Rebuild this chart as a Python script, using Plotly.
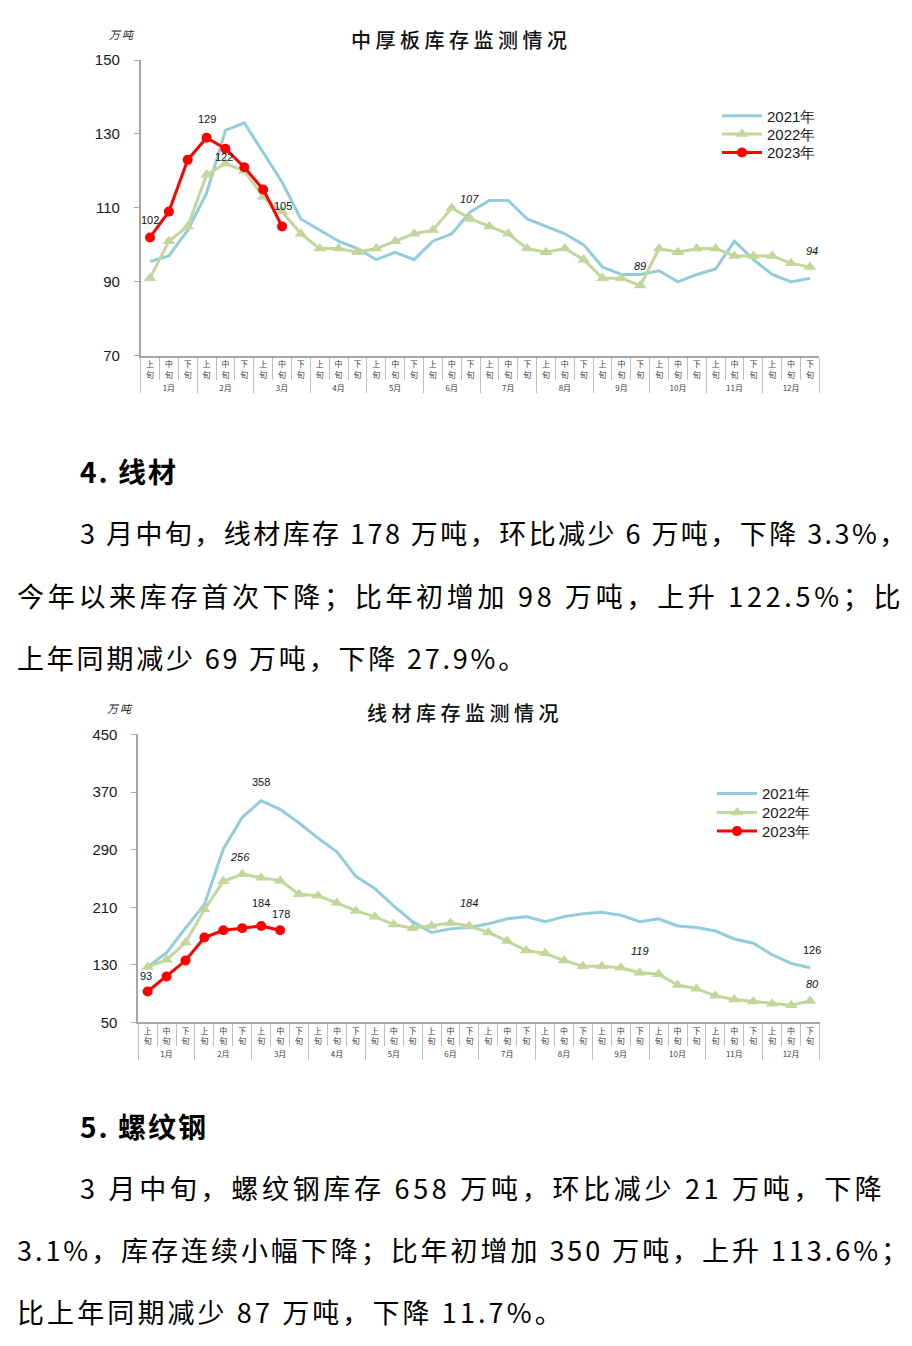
import plotly.graph_objects as go

# ---------------- data ----------------
months = ["1月", "2月", "3月", "4月", "5月", "6月", "7月", "8月", "9月", "10月", "11月", "12月"]
xun = ["上旬", "中旬", "下旬"]
series_names = ["2021年", "2022年", "2023年"]

plate_2021 = [95.5, 97, 104, 114, 131, 133, 125, 117, 107, 104, 101, 99, 96, 98, 96, 101, 103, 109,
              112, 112, 107, 105, 103, 100, 94, 92, 92, 93, 90, 92, 93.5, 101, 96, 92, 90, 91]
plate_2022 = [91, 101, 105, 119, 122, 120, 113, 109, 103, 99, 99, 98, 99, 101, 103, 104, 110, 107,
              105, 103, 99, 98, 99, 96, 91, 91, 89, 99, 98, 99, 99, 97, 97, 97, 95, 94]
plate_2023 = [102, 109, 123, 129, 126, 121, 115, 105]

wire_2021 = [127, 147, 181, 214, 291, 335, 358, 346, 327, 306, 287, 253, 236, 212, 190, 175, 180, 182,
             187, 194, 197, 190, 197, 201, 203, 199, 190, 194, 184, 182, 177, 166, 160, 144, 132, 126]
wire_2022 = [127, 137, 161, 207, 246, 256, 251, 247, 228, 226, 216, 205, 197, 186, 181, 184, 188, 184,
             175, 163, 150, 146, 136, 128, 128, 126, 119, 117, 102, 97, 87, 82, 79, 76, 74, 80]
wire_2023 = [93, 114, 136, 168, 178, 181, 184, 178]

plate_ticks = [70, 90, 110, 130, 150]
wire_ticks = [50, 130, 210, 290, 370, 450]

chart_titles = ["中厚板库存监测情况", "线材库存监测情况"]
unit_label = "万吨"

heading_4 = "4. 线材"
para_4 = ["3 月中旬，线材库存 178 万吨，环比减少 6 万吨，下降 3.3%，",
          "今年以来库存首次下降；比年初增加 98 万吨，上升 122.5%；比",
          "上年同期减少 69 万吨，下降 27.9%。"]
heading_5 = "5. 螺纹钢"
para_5 = ["3 月中旬，螺纹钢库存 658 万吨，环比减少 21 万吨，下降",
          "3.1%，库存连续小幅下降；比年初增加 350 万吨，上升 113.6%；",
          "比上年同期减少 87 万吨，下降 11.7%。"]

# ---------------- helpers ----------------
W, H = 912, 1346
# the page is photographed slightly squeezed vertically; map target pixels to paper fractions
SY = 1346 / 1362
OY = 8 * SY
def PX(p): return p / W
def PY(p): return 1 - ((p - OY) / SY) / H

x_outer = [m for m in months for _ in xun]
x_inner = [x[0] + "<br>" + x[1] for _ in months for x in xun]
XC = [x_outer, x_inner]

BLUE = "#92CDDC"
GREEN = "#C3D69B"
RED = "#FF0000"
CJK = "Noto Sans CJK SC"

fig = go.Figure()

def add_series(vals21, vals22, vals23, xa, ya, legends):
    n23 = len(vals23)
    fig.add_trace(go.Scatter(x=XC, y=vals21, name=series_names[0], mode="lines",
                             line=dict(color=BLUE, width=3), xaxis=xa, yaxis=ya, legend=legends[0]))
    fig.add_trace(go.Scatter(x=XC, y=vals22, name=series_names[1], mode="lines+markers",
                             line=dict(color=GREEN, width=3),
                             marker=dict(symbol="triangle-up", size=11, color=GREEN),
                             xaxis=xa, yaxis=ya, legend=legends[1]))
    fig.add_trace(go.Scatter(x=[x_outer[:n23], x_inner[:n23]], y=vals23, name=series_names[2],
                             mode="lines+markers", line=dict(color=RED, width=3),
                             marker=dict(symbol="circle", size=10, color=RED),
                             xaxis=xa, yaxis=ya, legend=legends[2]))

add_series(plate_2021, plate_2022, plate_2023, "x", "y", ["legend", "legend2", "legend3"])
add_series(wire_2021, wire_2022, wire_2023, "x2", "y2", ["legend4", "legend5", "legend6"])

xcommon = dict(type="multicategory", range=[-0.5, 35.5], showline=True, linecolor="#A6A6A6",
               linewidth=1.5, ticks="outside", tickson="boundaries", ticklen=22, tickcolor="#BFBFBF",
               tickwidth=1, tickfont=dict(size=8, color="#404040", family=CJK),
               showdividers=True, dividercolor="#BFBFBF", dividerwidth=1, showgrid=False,
               zeroline=False, fixedrange=True)
ycommon = dict(showline=True, linecolor="#A6A6A6", linewidth=1.5, ticks="outside", ticklen=5,
               tickcolor="#A6A6A6", tickfont=dict(size=15, color="#1a1a1a", family="Liberation Sans"),
               showgrid=False, zeroline=False, fixedrange=True, ticklabelstandoff=11)

def leg(xp, yp):
    return dict(x=PX(xp), y=PY(yp), xanchor="left", yanchor="middle", bgcolor="rgba(0,0,0,0)",
                borderwidth=0, font=dict(size=15, color="#1a1a1a", family="Liberation Sans"),
                itemwidth=40)

fig.update_layout(
    width=W, height=H, margin=dict(l=0, r=0, t=0, b=0),
    paper_bgcolor="white", plot_bgcolor="white",
    xaxis=dict(domain=[PX(140.6), PX(819.4)], anchor="y", **xcommon),
    yaxis=dict(domain=[PY(355), PY(59)], anchor="x", range=[70, 150], tickvals=plate_ticks, **ycommon),
    xaxis2=dict(domain=[PX(138.2), PX(819.5)], anchor="y2", **xcommon),
    yaxis2=dict(domain=[PY(1022.3), PY(734)], anchor="x2", range=[50, 450], tickvals=wire_ticks, **ycommon),
    legend=leg(717, 115), legend2=leg(717, 133.3), legend3=leg(717, 151.7),
    legend4=leg(712, 793.3), legend5=leg(712, 812.3), legend6=leg(712, 831),
    showlegend=True,
)

ann = []
# data labels: (xref, yref, index, value, text, italic, xshift, yshift)
labels = [
    ("x", "y", 0, plate_2023[0], "102", False, 0, 17),
    ("x", "y", 3, plate_2023[3], "129", False, 0, 19),
    ("x", "y", 4, plate_2022[4], "122", False, -1, 7),
    ("x", "y", 7, plate_2023[7], "105", False, 1, 20),
    ("x", "y", 17, plate_2022[17], "107", True, -1, 20),
    ("x", "y", 26, plate_2022[26], "89", True, 0, 20),
    ("x", "y", 35, plate_2022[35], "94", True, 2, 16),
    ("x2", "y2", 0, wire_2023[0], "93", False, -2, 16),
    ("x2", "y2", 6, wire_2021[6], "358", False, 0, 19),
    ("x2", "y2", 5, wire_2022[5], "256", True, -2, 17),
    ("x2", "y2", 6, wire_2023[6], "184", False, 0, 23),
    ("x2", "y2", 7, wire_2023[7], "178", False, 1, 16),
    ("x2", "y2", 17, wire_2022[17], "184", True, 0, 23),
    ("x2", "y2", 26, wire_2022[26], "119", True, 0, 22),
    ("x2", "y2", 35, wire_2021[35], "126", False, 2, 18),
    ("x2", "y2", 35, wire_2022[35], "80", True, 2, 17),
]
for xr, yr, i, v, t, it, xs, ys in labels:
    ann.append(dict(xref=xr, yref=yr, x=i, y=v, text=("<i>%s</i>" % t) if it else t, showarrow=False,
                    xshift=xs, yshift=ys, font=dict(size=11, color="#111111", family="Liberation Sans")))

# chart titles and units
for t, xc, yc in [(chart_titles[0], 461, 38), (chart_titles[1], 465, 712)]:
    ann.append(dict(xref="paper", yref="paper", x=PX(xc), y=PY(yc),
                    text='<span style="letter-spacing:4.5px">%s</span>' % t,
                    showarrow=False, xanchor="center", yanchor="middle",
                    font=dict(size=20, color="#111111", family=CJK, weight=500)))
for xl, yc in [(107, 33), (105, 708)]:
    ann.append(dict(xref="paper", yref="paper", x=PX(xl), y=PY(yc),
                    text='<i><span style="letter-spacing:2px">%s</span></i>' % unit_label,
                    showarrow=False, xanchor="left", yanchor="middle",
                    font=dict(size=11, color="#222222", family=CJK)))

# body text
def body(text, x, y, ls, size=27, weight="normal"):
    ann.append(dict(xref="paper", yref="paper", x=PX(x), y=PY(y),
                    text='<span style="letter-spacing:%.2fpx">%s</span>' % (ls, text),
                    showarrow=False, xanchor="left", yanchor="middle",
                    font=dict(size=size, color="#000000", family=CJK, weight=weight)))

body(heading_4, 78, 470, 2.0, 28, 600)
body(para_4[0], 78, 532, 2.45)
body(para_4[1], 15, 595, 3.7)
body(para_4[2], 15, 657, 2.8)
body(heading_5, 78, 1126, 2.0, 28, 600)
body(para_5[0], 78, 1187, 3.7)
body(para_5[1], 15, 1250, 2.95)
body(para_5[2], 15, 1312, 3.1)

fig.update_layout(annotations=ann)

fig.write_html("out.html", config={"displayModeBar": False, "responsive": False},
               post_script="document.body.style.margin='0';")
